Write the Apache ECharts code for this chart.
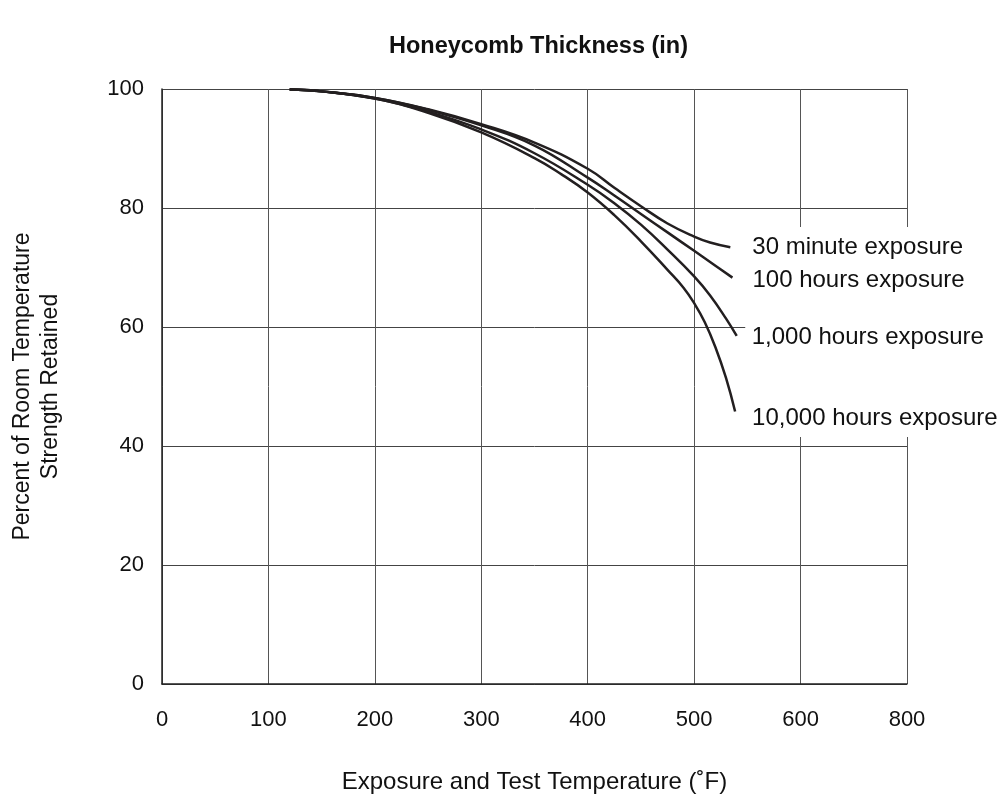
<!DOCTYPE html>
<html>
<head>
<meta charset="utf-8">
<script src="https://cdn.jsdelivr.net/npm/echarts@6/dist/echarts.min.js"></script>
<style>
  html, body { margin: 0; padding: 0; background: #fff; }
  #main { width: 999px; height: 795px; }
</style>
</head>
<body>
<div id="main"></div>
<script>
// curves: [temperature F, percent retained]
var min30 = [[120,99.9],[150,99.6],[200,98.5],[250,96.6],[300,94.1],[350,91.0],[400,86.6],[425,83.4],[450,80.3],[475,77.4],[500,75.2],[515,74.2],[534,73.4]];
var hrs100 = [[120,99.9],[150,99.6],[200,98.5],[250,96.5],[300,93.9],[350,90.5],[400,85.1],[425,82.1],[450,79.0],[475,75.9],[500,72.8],[520,70.3],[536,68.3]];
var hrs1000 = [[120,99.9],[150,99.6],[200,98.4],[250,96.2],[300,93.2],[350,89.2],[400,83.9],[425,80.8],[450,77.2],[475,73.0],[500,68.5],[515,65.3],[530,61.4],[540,58.5]];
var hrs10000 = [[120,99.9],[150,99.6],[200,98.4],[250,96.0],[300,92.7],[350,88.4],[375,85.7],[400,82.6],[425,78.8],[450,74.4],[475,69.6],[490,66.6],[500,64.0],[510,60.8],[520,56.6],[530,51.4],[538.5,45.8]];

var seriesNames = ['30 minute exposure', '100 hours exposure', '1,000 hours exposure', '10,000 hours exposure'];
// the picture labels the last gridline 800
var xTickLabels = {0:'0',100:'100',200:'200',300:'300',400:'400',500:'500',600:'600',700:'800'};

// white area behind the curve labels (data coords: x from, y top, y bottom)
var labelBox = [548, 76.8, 41.5];

var chart = echarts.init(document.getElementById('main'));

var lineCol = '#231f20';
var font = 'Liberation Sans, Arial, Helvetica, sans-serif';

function makeSeries(name, data, offset) {
  return {
    name: name,
    type: 'line',
    data: data,
    smooth: 0.45,
    showSymbol: false,
    z: 3,
    lineStyle: { color: lineCol, width: 2.5 },
    endLabel: {
      show: true,
      formatter: '{a}',
      color: '#111',
      fontFamily: font,
      fontSize: 24,
      offset: offset
    }
  };
}

var option = {
  animation: false,
  backgroundColor: '#fff',
  title: {
    text: 'Honeycomb Thickness (in)',
    left: 384,
    top: 30,
    textStyle: { fontFamily: font, fontSize: 23.5, fontWeight: 'bold', color: '#111' }
  },
  grid: { left: 162, right: 92, top: 89, bottom: 111, outerBoundsMode: 'none' },
  xAxis: {
    type: 'value',
    min: 0,
    max: 700,
    interval: 100,
    name: 'Exposure and Test Temperature (˚F)',
    nameLocation: 'middle',
    nameGap: 86,
    nameTextStyle: { fontFamily: font, fontSize: 24, color: '#111' },
    axisLine: { show: true, lineStyle: { color: '#222', width: 1.5 } },
    axisTick: { show: false },
    axisLabel: {
      margin: 25,
      fontFamily: font, fontSize: 22, color: '#111',
      formatter: function (v) { return xTickLabels[v]; }
    },
    splitLine: { show: true, lineStyle: { color: '#555', width: 1 } }
  },
  yAxis: {
    type: 'value',
    min: 0,
    max: 100,
    interval: 20,
    name: 'Percent of Room Temperature\nStrength Retained',
    nameLocation: 'middle',
    nameGap: 97,
    nameTextStyle: { fontFamily: font, fontSize: 23, color: '#111', lineHeight: 28 },
    axisLine: { show: true, lineStyle: { color: '#222', width: 1.5 } },
    axisTick: { show: false },
    axisLabel: { margin: 18, fontFamily: font, fontSize: 22, color: '#111' },
    splitLine: { show: true, lineStyle: { color: '#444', width: 1 } }
  },
  series: [
    makeSeries(seriesNames[0], min30, [14, 0]),
    makeSeries(seriesNames[1], hrs100, [12, 3]),
    makeSeries(seriesNames[2], hrs1000, [7, 1]),
    makeSeries(seriesNames[3], hrs10000, [9, 7])
  ]
};

chart.setOption(option);

// cover the gridlines behind the labels, like the original
var p1 = chart.convertToPixel('grid', [labelBox[0], labelBox[1]]);
var p2 = chart.convertToPixel('grid', [labelBox[0], labelBox[2]]);
chart.setOption({
  graphic: [{
    type: 'rect',
    z: 1,
    shape: { x: p1[0], y: p1[1], width: chart.getWidth() - p1[0], height: p2[1] - p1[1] },
    style: { fill: '#fff' }
  }]
});
</script>
</body>
</html>
